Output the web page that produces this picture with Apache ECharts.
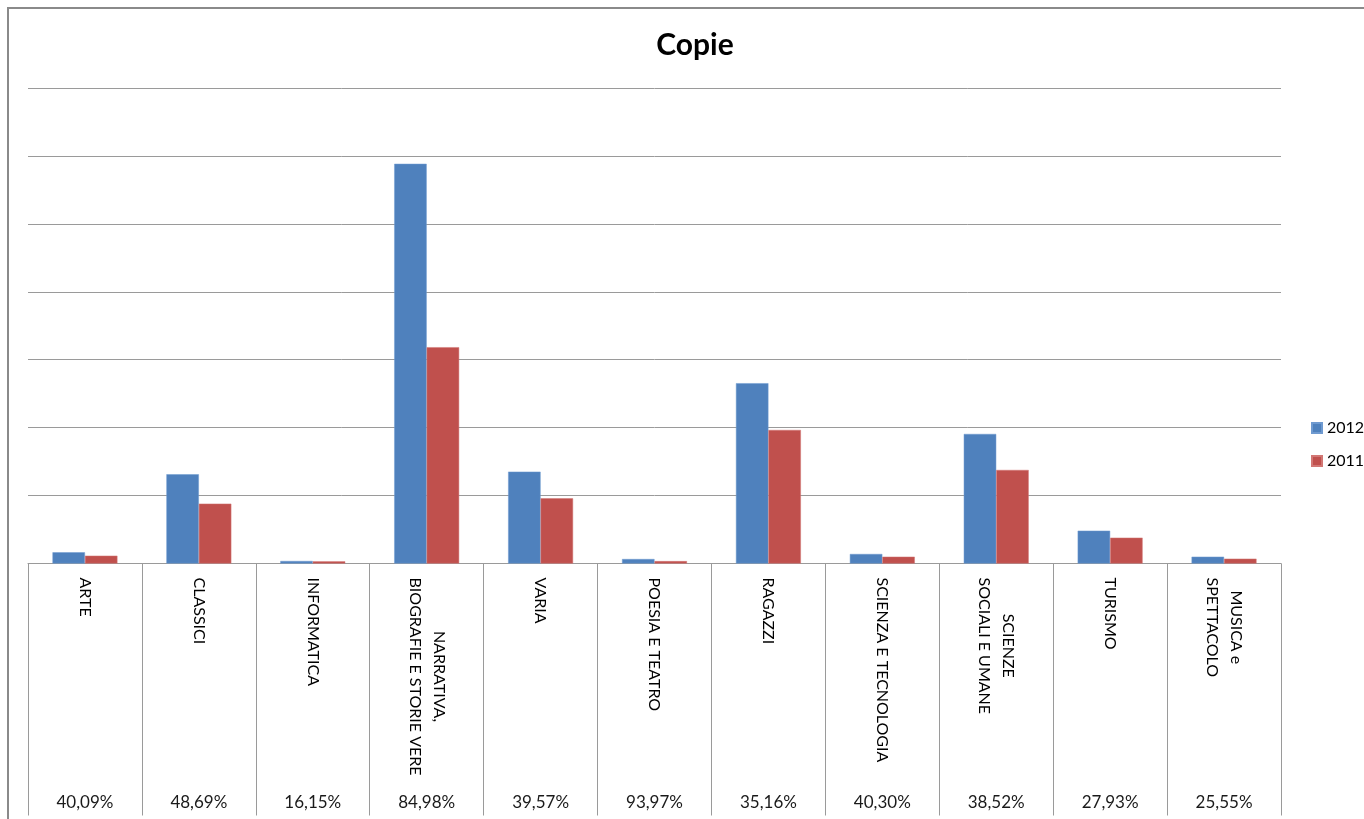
<!DOCTYPE html>
<html>
<head>
<meta charset="utf-8">
<script src="https://cdn.jsdelivr.net/npm/echarts@6/dist/echarts.min.js"></script>
<style>
  html, body { margin: 0; padding: 0; background: #fff; }
  #chart { width: 1364px; height: 819px; }
</style>
</head>
<body>
<div id="chart"></div>
<script>
const categories = [
  'ARTE', 'CLASSICI', 'INFORMATICA', 'NARRATIVA,\nBIOGRAFIE E STORIE VERE', 'VARIA',
  'POESIA E TEATRO', 'RAGAZZI', 'SCIENZA E TECNOLOGIA', 'SCIENZE\nSOCIALI E UMANE',
  'TURISMO', 'MUSICA e\nSPETTACOLO'
];
const values2012 = [165, 1314, 37, 5884, 1352, 66, 2654, 140, 1907, 483, 100];
const values2011 = [115, 881, 32, 3184, 960, 35, 1966, 100, 1377, 380, 71];
const pctLabels = ['40,09%', '48,69%', '16,15%', '84,98%', '39,57%', '93,97%', '35,16%', '40,30%', '38,52%', '27,93%', '25,55%'];
const seriesNames = ['2012', '2011'];

const FONT = 'Lato, "Open Sans", sans-serif';
const GRID_COLOR = '#9a9a9a';

const chart = echarts.init(document.getElementById('chart'), null, { renderer: 'canvas' });
chart.setOption({
  backgroundColor: '#fff',
  animation: false,
  title: {
    text: 'Copie',
    left: 690,
    top: 25,
    textAlign: 'center',
    textStyle: { fontFamily: FONT, fontWeight: 'bold', fontSize: 30, color: '#000' }
  },
  legend: {
    orient: 'vertical',
    left: 1311,
    top: 420,
    padding: 0,
    itemWidth: 10,
    itemHeight: 10,
    itemGap: 17,
    icon: 'rect',
    data: seriesNames,
    textStyle: { fontFamily: FONT, fontSize: 16, color: '#000' }
  },
  graphic: [{
    type: 'rect',
    shape: { x: 8, y: 8, width: 1400, height: 900 },
    style: { fill: 'none', stroke: '#8a8a8a', lineWidth: 2 },
    silent: true
  }],
  grid: { left: 28, right: 83, top: 88, bottom: 255.5, containLabel: false },
  xAxis: [{
    type: 'category',
    data: categories,
    position: 'bottom',
    axisLine: { show: true, lineStyle: { color: GRID_COLOR, width: 1 } },
    axisTick: { show: true, interval: 0, length: 252, lineStyle: { color: GRID_COLOR, width: 1 } },
    axisLabel: {
      interval: 0,
      rotate: -90,
      margin: 14,
      formatter: v => v.split('\n').map(l => '{c|' + l + '}').join('\n'),
      rich: { c: { align: 'center', fontFamily: FONT, fontSize: 16, color: '#000', lineHeight: 24 } }
    }
  }, {
    type: 'category',
    data: pctLabels,
    position: 'bottom',
    offset: 224,
    axisLine: { show: false },
    axisTick: { show: false },
    axisLabel: { interval: 0, margin: 7, fontFamily: FONT, fontSize: 17, color: '#1a1a1a' }
  }],
  yAxis: {
    type: 'value',
    min: 0,
    max: 7000,
    interval: 1000,
    axisLabel: { show: false },
    axisLine: { show: false },
    axisTick: { show: false },
    splitLine: { show: true, lineStyle: { color: GRID_COLOR, width: 1 } }
  },
  series: [{
    name: seriesNames[0],
    type: 'bar',
    xAxisIndex: 0,
    data: values2012,
    barGap: '0%',
    barCategoryGap: '43%',
    itemStyle: { color: '#4F81BD', borderColor: '#6f9ad0', borderWidth: 0.5 }
  }, {
    name: seriesNames[1],
    type: 'bar',
    xAxisIndex: 0,
    data: values2011,
    barGap: '0%',
    barCategoryGap: '43%',
    itemStyle: { color: '#C0504D', borderColor: '#d27774', borderWidth: 0.5 }
  }]
});
</script>
</body>
</html>
